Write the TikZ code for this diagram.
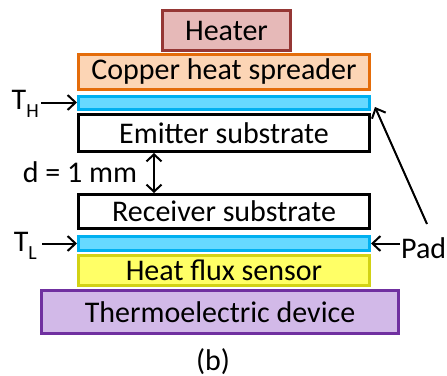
\documentclass[tikz,border=0pt]{standalone}
\usepackage{fontspec}
\setmainfont{Carlito}
\usetikzlibrary{arrows.meta,calc}
\definecolor{htfill}{RGB}{230,185,184}
\definecolor{htdraw}{RGB}{149,55,53}
\definecolor{cufill}{RGB}{252,213,181}
\definecolor{cudraw}{RGB}{228,108,10}
\definecolor{padfill}{RGB}{102,217,255}
\definecolor{paddraw}{RGB}{0,176,240}
\definecolor{hffill}{RGB}{255,255,102}
\definecolor{hfdraw}{RGB}{210,210,20}
\definecolor{tefill}{RGB}{210,185,232}
\definecolor{tedraw}{RGB}{112,48,160}
\tikzset{
  layer/.style={draw, line width=3pt, rectangle, inner sep=0pt, font=\fontsize{30}{34}\selectfont},
  lbl/.style={inner sep=0pt, font=\fontsize{30}{34}\selectfont},
  ptr/.style={line width=2pt, -{Straight Barb[length=8pt,width=15pt,line width=2pt]}},
  dbl/.style={line width=2pt, {Straight Barb[length=7pt,width=15pt,line width=2pt]}-{Straight Barb[length=7pt,width=15pt,line width=2pt]}}
}
\begin{document}
\begin{tikzpicture}[x=1pt,y=-1pt]
\useasboundingbox (0,0) rectangle (447,375);
\node[layer, draw=htdraw, fill=htfill, minimum width=128pt, minimum height=40pt] (heater) at (226.5,30.5) {Heater};
\node[layer, draw=cudraw, fill=cufill, minimum width=291pt, minimum height=35pt] (cu) at (224,72) {Copper heat spreader};
\node[layer, draw=paddraw, fill=padfill, minimum width=291pt, minimum height=13pt] (padtop) at (224,102.5) {};
\node[layer, draw=black, fill=white, minimum width=291pt, minimum height=37pt] (emit) at (224,133) {Emitter substrate};
\node[layer, draw=black, fill=white, minimum width=291pt, minimum height=34pt] (recv) at (224,211.5) {Receiver substrate};
\node[layer, draw=paddraw, fill=padfill, minimum width=291pt, minimum height=14pt] (padbot) at (224,243.5) {};
\node[layer, draw=hfdraw, fill=hffill, minimum width=291pt, minimum height=30pt] (hf) at (224,270.5) {Heat flux sensor};
\node[layer, draw=tedraw, fill=tefill, minimum width=357pt, minimum height=43pt] (te) at (220,312) {Thermoelectric device};
\node[lbl] (dist) at (80,172) {d = 1 mm};
\coordinate (gapx) at (154,0);
\draw[dbl] (emit.south -| gapx) -- (recv.north -| gapx);
\node[lbl, anchor=east] (th) at (39,104) {T\raisebox{-0.28em}{\fontsize{20}{22}\selectfont H}};
\node[lbl, anchor=east] (tl) at (37,246) {T\raisebox{-0.28em}{\fontsize{20}{22}\selectfont L}};
\draw[ptr] (th.east |- padtop.west) ++(2,0) -- (padtop.west);
\draw[ptr] (tl.east |- padbot.west) ++(5,0) -- (padbot.west);
\node[lbl, anchor=west] (pad) at (401,248) {Pad};
\draw[ptr] (pad.west |- padbot.east) ++(-1,0) -- (padbot.east);
\coordinate (padtip) at (375,107);
\coordinate (padfoot) at (427,224);
\draw[ptr] (padfoot) -- (padtip);
\node[lbl] (cap) at (213,362) {(b)};
\end{tikzpicture}
\end{document}
